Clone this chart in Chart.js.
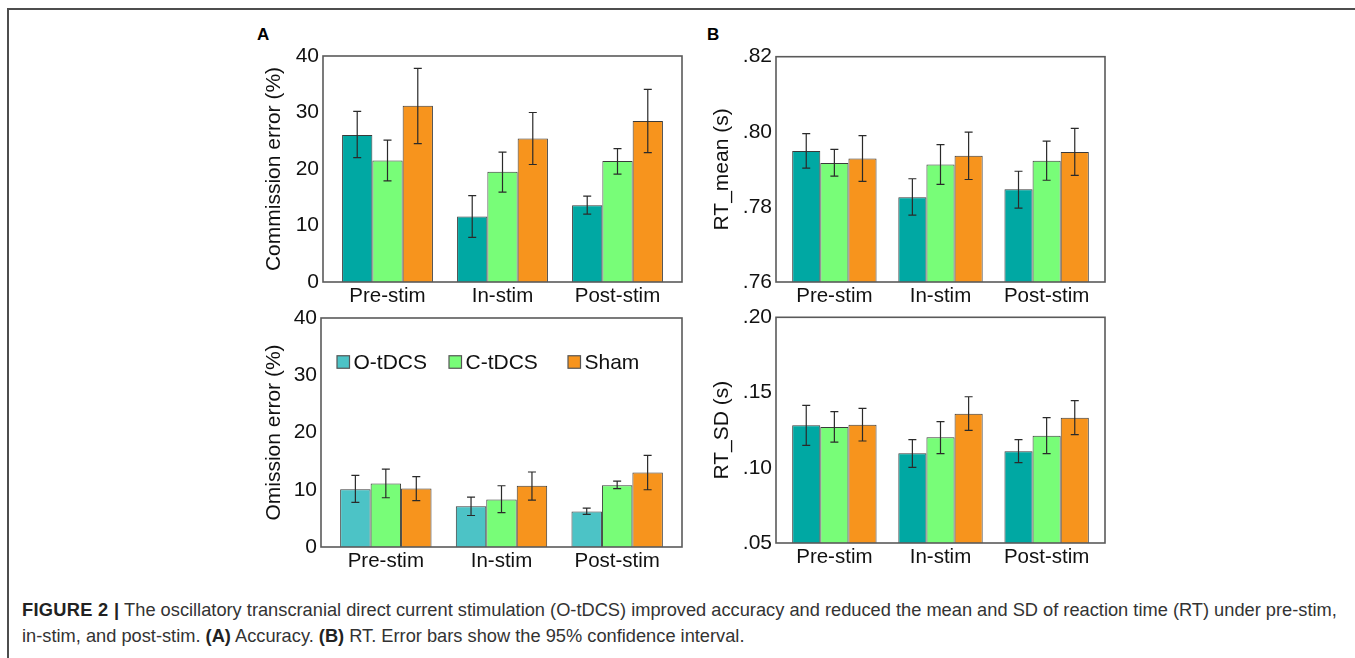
<!DOCTYPE html>
<html>
<head>
<meta charset="utf-8">
<script src="https://cdn.jsdelivr.net/npm/chart.js@4/dist/chart.umd.min.js"></script>
<style>
  html, body { margin: 0; padding: 0; background: #fff; }
  body { width: 1355px; height: 658px; position: relative; overflow: hidden; font-family: "Liberation Sans", Arial, sans-serif; }
  .frame { position: absolute; left: 7px; top: 8px; width: 1360px; height: 700px; border-top: 2px solid #4d4d4d; border-left: 2px solid #4d4d4d; }
  canvas { position: absolute; }
  .plabel { position: absolute; font-weight: bold; font-size: 17px; color: #000; }
  .caption { position: absolute; left: 22px; top: 597px; white-space: nowrap; font-size: 18.25px; line-height: 26px; color: #333; }
  .caption b { color: #222; }
  .caption b.fig { letter-spacing: 0.3px; }
</style>
</head>
<body>
<div class="frame"></div>
<div class="plabel" style="left:257px; top:25px;">A</div>
<div class="plabel" style="left:707px; top:25px;">B</div>
<canvas id="cA1" width="440" height="270" style="left:250px; top:40px;"></canvas>
<canvas id="cA2" width="440" height="270" style="left:250px; top:302px;"></canvas>
<canvas id="cB1" width="425" height="270" style="left:690px; top:40px;"></canvas>
<canvas id="cB2" width="425" height="270" style="left:690px; top:302px;"></canvas>
<div class="caption"><b class="fig">FIGURE 2 |</b> The oscillatory transcranial direct current stimulation (O-tDCS) improved accuracy and reduced the mean and SD of reaction time (RT) under pre-stim,<br>in-stim, and post-stim. <b>(A)</b> Accuracy. <b>(B)</b> RT. Error bars show the 95% confidence interval.</div>
<script>
// ---------- DATA ----------
const categories = ['Pre-stim', 'In-stim', 'Post-stim'];
const groups = ['O-tDCS', 'C-tDCS', 'Sham'];

// Commission error (%)
const commissionO = [26.0, 11.6, 13.6];
const commissionC = [21.5, 19.5, 21.4];
const commissionSham = [31.2, 25.4, 28.5];
const commissionOCI = [[22.0, 30.2], [7.9, 15.3], [12.0, 15.2]];
const commissionCCI = [[17.9, 25.1], [15.9, 23.0], [19.1, 23.6]];
const commissionShamCI = [[24.5, 37.8], [20.8, 30.0], [22.9, 34.1]];
const commissionTickValues = [0, 10, 20, 30, 40];
const commissionTickLabels = ['0', '10', '20', '30', '40'];

// Omission error (%)
const omissionO = [10.1, 7.1, 6.2];
const omissionC = [11.1, 8.3, 10.8];
const omissionSham = [10.2, 10.7, 13.0];
const omissionOCI = [[7.8, 12.5], [5.5, 8.7], [5.7, 6.8]];
const omissionCCI = [[8.6, 13.6], [6.0, 10.7], [10.2, 11.5]];
const omissionShamCI = [[8.1, 12.3], [8.2, 13.1], [10.0, 16.0]];
const omissionTickValues = [0, 10, 20, 30, 40];
const omissionTickLabels = ['0', '10', '20', '30', '40'];

// RT_mean (s)
const rtMeanO = [0.7949, 0.7826, 0.7847];
const rtMeanC = [0.7917, 0.7913, 0.7923];
const rtMeanSham = [0.7929, 0.7936, 0.7946];
const rtMeanOCI = [[0.7903, 0.7995], [0.7778, 0.7875], [0.7797, 0.7895]];
const rtMeanCCI = [[0.7882, 0.7953], [0.7860, 0.7966], [0.7871, 0.7975]];
const rtMeanShamCI = [[0.7868, 0.7990], [0.7873, 0.7999], [0.7884, 0.8009]];
const rtMeanTickValues = [0.76, 0.78, 0.80, 0.82];
const rtMeanTickLabels = ['.76', '.78', '.80', '.82'];

// RT_SD (s)
const rtSdO = [0.1282, 0.1096, 0.1109];
const rtSdC = [0.1271, 0.1203, 0.1213];
const rtSdSham = [0.1286, 0.1359, 0.1333];
const rtSdOCI = [[0.1149, 0.1415], [0.1003, 0.1187], [0.1034, 0.1187]];
const rtSdCCI = [[0.1171, 0.1373], [0.1094, 0.1306], [0.1094, 0.1333]];
const rtSdShamCI = [[0.1178, 0.1395], [0.1249, 0.1472], [0.1220, 0.1446]];
const rtSdTickValues = [0.05, 0.10, 0.15, 0.20];
const rtSdTickLabels = ['.05', '.10', '.15', '.20'];

// ---------- STYLE ----------
const TEAL = '#00a8a3';
const TEAL_LIGHT = '#4cc3c6';
const GREEN = '#78fd78';
const ORANGE = '#f7941d';
const FONT = '"Liberation Sans", Arial, sans-serif';

const framePlugin = {
  id: 'framePlugin',
  afterDatasetsDraw(chart, args, opts) {
    const a = chart.chartArea, ctx = chart.ctx, ext = opts.ext || 0;
    ctx.save();
    ctx.strokeStyle = '#5a5a5a';
    ctx.lineWidth = 1.6;
    ctx.strokeRect(a.left - ext, a.top, (a.right - a.left) + 2 * ext, a.bottom - a.top);
    ctx.restore();
  }
};

const errorBarPlugin = {
  id: 'errorBarPlugin',
  afterDatasetsDraw(chart) {
    const ctx = chart.ctx, y = chart.scales.y;
    ctx.save();
    ctx.strokeStyle = '#2a2a2a';
    ctx.lineWidth = 1.2;
    chart.data.datasets.forEach((ds, di) => {
      const meta = chart.getDatasetMeta(di);
      meta.data.forEach((bar, i) => {
        const ci = ds.ci[i];
        const x = bar.x;
        const yl = y.getPixelForValue(ci[0]);
        const yh = y.getPixelForValue(ci[1]);
        const cap = 4;
        ctx.beginPath();
        ctx.moveTo(x, yl); ctx.lineTo(x, yh);
        ctx.moveTo(x - cap, yl); ctx.lineTo(x + cap, yl);
        ctx.moveTo(x - cap, yh); ctx.lineTo(x + cap, yh);
        ctx.stroke();
      });
    });
    ctx.restore();
  }
};

const legendPlugin = {
  id: 'insideLegend',
  afterDatasetsDraw(chart, args, opts) {
    if (!opts.show) return;
    const ctx = chart.ctx, a = chart.chartArea;
    ctx.save();
    ctx.font = '21px ' + FONT;
    ctx.textBaseline = 'middle';
    ctx.textAlign = 'left';
    chart.data.datasets.forEach((ds, i) => {
      const x = a.left + opts.xs[i];
      const yc = opts.y;
      const s = 12.5;
      ctx.fillStyle = ds.backgroundColor;
      ctx.fillRect(x, yc - s / 2, s, s);
      ctx.strokeStyle = '#555';
      ctx.lineWidth = 1.2;
      ctx.strokeRect(x, yc - s / 2, s, s);
      ctx.fillStyle = '#111';
      ctx.fillText(ds.label, x + s + 4, yc + 1);
    });
    ctx.restore();
  }
};

function makeChart(id, o) {
  const datasets = o.series.map((s, i) => ({
    label: groups[i],
    data: s.values,
    ci: s.ci,
    backgroundColor: s.color,
    borderColor: '#3a3a3a',
    borderWidth: 1,
    barPercentage: 1,
    categoryPercentage: o.catPct
  }));
  return new Chart(document.getElementById(id), {
    type: 'bar',
    data: { labels: categories, datasets },
    plugins: [framePlugin, errorBarPlugin, legendPlugin],
    options: {
      responsive: false,
      animation: false,
      devicePixelRatio: 1,
      layout: { padding: { top: o.padTop, right: o.padRight, left: 0, bottom: 0 } },
      plugins: {
        legend: { display: false },
        tooltip: { enabled: false },
        framePlugin: { ext: o.ext },
        insideLegend: o.legend || { show: false }
      },
      scales: {
        x: {
          grid: { display: false, drawTicks: false },
          border: { display: false },
          ticks: { color: '#111', font: { family: FONT, size: 20.5 }, padding: 2, maxRotation: 0 },
          afterFit(scale) {
            scale.height = o.xHeight;
            scale.paddingLeft = 0; scale.paddingRight = 0;
          }
        },
        y: {
          min: o.tickValues[0],
          max: o.tickValues[o.tickValues.length - 1],
          grid: { display: false, drawTicks: false },
          border: { display: false },
          afterBuildTicks(scale) { scale.ticks = o.tickValues.map(v => ({ value: v })); },
          ticks: {
            color: '#111',
            font: { family: FONT, size: 21 },
            padding: 4 + o.ext,
            callback: (v, i) => o.tickLabels[i]
          },
          title: {
            display: true,
            text: o.title,
            color: '#111',
            font: { family: FONT, size: 21 },
            padding: { top: o.titlePad, bottom: 0 }
          },
          afterFit(scale) {
            scale.width = o.yWidth;
            scale.paddingTop = 0; scale.paddingBottom = 0;
          }
        }
      }
    }
  });
}

makeChart('cA1', {
  title: 'Commission error (%)',
  tickValues: commissionTickValues, tickLabels: commissionTickLabels,
  series: [
    { values: commissionO, ci: commissionOCI, color: TEAL },
    { values: commissionC, ci: commissionCCI, color: GREEN },
    { values: commissionSham, ci: commissionShamCI, color: ORANGE }
  ],
  catPct: 0.79, ext: 7, yWidth: 80, padTop: 16, padRight: 15, xHeight: 28, titlePad: 12
});

makeChart('cA2', {
  title: 'Omission error (%)',
  tickValues: omissionTickValues, tickLabels: omissionTickLabels,
  series: [
    { values: omissionO, ci: omissionOCI, color: TEAL_LIGHT },
    { values: omissionC, ci: omissionCCI, color: GREEN },
    { values: omissionSham, ci: omissionShamCI, color: ORANGE }
  ],
  catPct: 0.79, ext: 7, yWidth: 78, padTop: 16, padRight: 15, xHeight: 25, titlePad: 12,
  legend: { show: true, xs: [9, 121, 240], y: 60 }
});

makeChart('cB1', {
  title: 'RT_mean (s)',
  tickValues: rtMeanTickValues, tickLabels: rtMeanTickLabels,
  series: [
    { values: rtMeanO, ci: rtMeanOCI, color: TEAL },
    { values: rtMeanC, ci: rtMeanCCI, color: GREEN },
    { values: rtMeanSham, ci: rtMeanShamCI, color: ORANGE }
  ],
  catPct: 0.795, ext: 5.3, yWidth: 91.3, padTop: 16.7, padRight: 15.3, xHeight: 28, titlePad: 20
});

makeChart('cB2', {
  title: 'RT_SD (s)',
  tickValues: rtSdTickValues, tickLabels: rtSdTickLabels,
  series: [
    { values: rtSdO, ci: rtSdOCI, color: TEAL },
    { values: rtSdC, ci: rtSdCCI, color: GREEN },
    { values: rtSdSham, ci: rtSdShamCI, color: ORANGE }
  ],
  catPct: 0.795, ext: 5.3, yWidth: 91.3, padTop: 15.3, padRight: 15.3, xHeight: 29, titlePad: 20
});
</script>
</body>
</html>
